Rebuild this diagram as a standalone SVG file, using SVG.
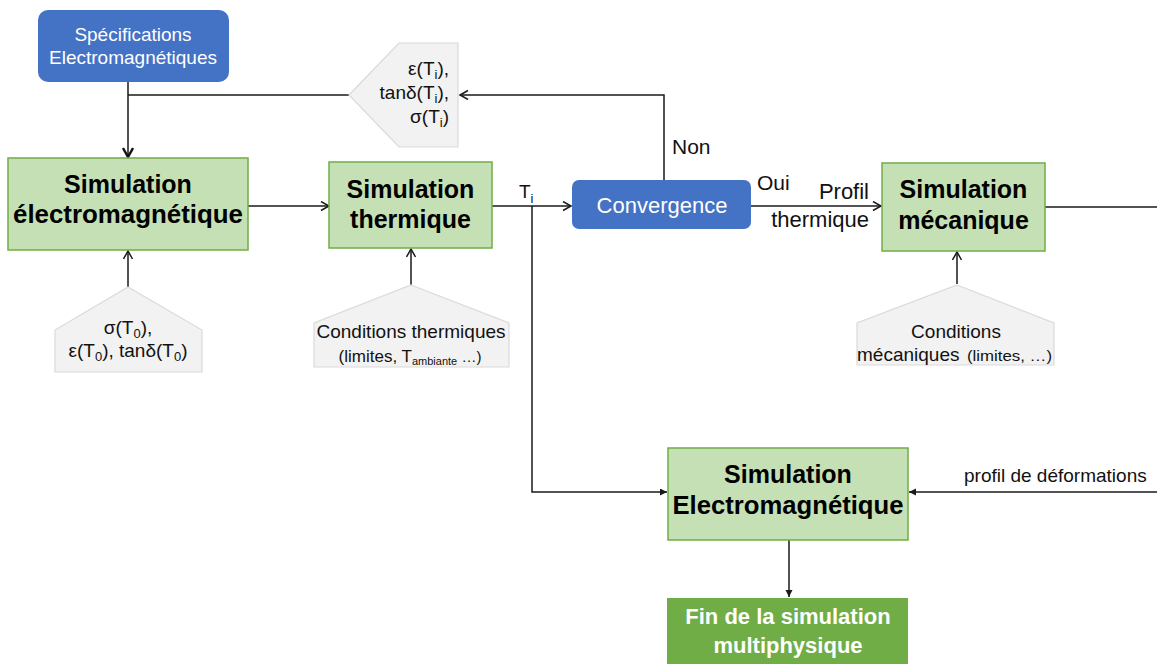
<svg xmlns="http://www.w3.org/2000/svg" width="1157" height="664" viewBox="0 0 1157 664">
<defs>
<style>
text{font-family:"Liberation Sans",Arial,sans-serif;}
.sim{fill:#C5E0B4;stroke:#70AD47;stroke-width:1.5;}
.blue{fill:#4472C4;}
.pent{fill:#F2F2F2;stroke:#DADADA;stroke-width:1.2;}
.tb{font-size:25px;font-weight:bold;fill:#000;text-anchor:middle;}
.tw{fill:#fff;text-anchor:middle;}
.tn{fill:#111;}
.c{text-anchor:middle;}
.e{text-anchor:end;}
.ln{fill:none;stroke:#1a1a1a;stroke-width:1.5;}
</style>
<marker id="open" markerUnits="userSpaceOnUse" markerWidth="12" markerHeight="12" refX="9" refY="5" orient="auto">
<path d="M1,0.5 L9,5 L1,9.5" fill="none" stroke="#1a1a1a" stroke-width="1.5"/>
</marker>
<marker id="openthick" markerUnits="userSpaceOnUse" markerWidth="14" markerHeight="14" refX="10" refY="6" orient="auto">
<path d="M1,1 L10,6 L1,11" fill="none" stroke="#111" stroke-width="2.4"/>
</marker>
<marker id="fill" markerUnits="userSpaceOnUse" markerWidth="10" markerHeight="10" refX="7" refY="3.5" orient="auto">
<path d="M0,0 L7,3.5 L0,7 Z" fill="#1a1a1a"/>
</marker>
</defs>
<rect width="1157" height="664" fill="#fff"/>

<g id="connectors">
<path class="ln" d="M128,82 V157" stroke-width="2.4" marker-end="url(#openthick)"/>
<path class="ln" d="M664,180 V95 H460" marker-end="url(#open)"/>
<path class="ln" d="M349,95 H128"/>
<path class="ln" d="M248,206 H329" marker-end="url(#open)"/>
<path class="ln" d="M492,206 H571" marker-end="url(#open)"/>
<path class="ln" d="M532,206 V492 H667" marker-end="url(#fill)"/>
<path class="ln" d="M751,206 H881" marker-end="url(#open)"/>
<path class="ln" d="M1045,207 H1157"/>
<path class="ln" d="M1157,492 H909" marker-end="url(#fill)"/>
<path class="ln" d="M789,540 V597" marker-end="url(#fill)"/>
<path class="ln" d="M128,287 V251" marker-end="url(#open)"/>
<path class="ln" d="M411,285 V249" marker-end="url(#open)"/>
<path class="ln" d="M957,284 V252" marker-end="url(#open)"/>
<text class="tn" x="519" y="198" style="font-size:19px">T<tspan style="font-size:13px" dy="5">i</tspan></text>
<text class="tn" x="672" y="154" style="font-size:21px">Non</text>
<text class="tn" x="757" y="190" style="font-size:21px">Oui</text>
<text class="tn e" x="869" y="199" style="font-size:22px">Profil</text>
<text class="tn e" x="869" y="227" style="font-size:22px">thermique</text>
<text class="tn" x="964" y="482" style="font-size:19px">profil de déformations</text>
</g>

<g id="spec">
<rect class="blue" x="38" y="10" width="191" height="72" rx="10"/>
<text class="tw" x="133" y="41" style="font-size:19px">Spécifications</text>
<text class="tw" x="133" y="64" style="font-size:19px">Electromagnétiques</text>
</g>

<g id="feedback-params">
<polygon class="pent" points="349,95 399,43 458,43 458,147 399,147"/>
<text class="tn e" x="449" y="75" style="font-size:19px">ε(T<tspan style="font-size:13px" dy="4">i</tspan><tspan dy="-4">),</tspan></text>
<text class="tn e" x="449" y="99" style="font-size:19px">tanδ(T<tspan style="font-size:13px" dy="4">i</tspan><tspan dy="-4">),</tspan></text>
<text class="tn e" x="449" y="123" style="font-size:19px">σ(T<tspan style="font-size:13px" dy="4">i</tspan><tspan dy="-4">)</tspan></text>
</g>

<g id="sim-em">
<rect class="sim" x="8" y="158" width="240" height="92"/>
<text class="tb" x="128" y="193">Simulation</text>
<text class="tb" x="128" y="223" textLength="230" lengthAdjust="spacingAndGlyphs">électromagnétique</text>
</g>

<g id="sim-thermique">
<rect class="sim" x="329" y="162" width="163" height="86"/>
<text class="tb" x="410.5" y="198">Simulation</text>
<text class="tb" x="410.5" y="228">thermique</text>
</g>

<g id="convergence">
<rect class="blue" x="572" y="180" width="179" height="49" rx="7"/>
<text class="tw" x="662" y="213" style="font-size:22px">Convergence</text>
</g>

<g id="sim-mecanique">
<rect class="sim" x="882" y="163" width="163" height="88"/>
<text class="tb" x="963.5" y="198">Simulation</text>
<text class="tb" x="963.5" y="229">mécanique</text>
</g>

<g id="em-params">
<polygon class="pent" points="128,287 202,330 202,372 55,372 55,330"/>
<text class="tn c" x="128" y="334" style="font-size:19px">σ(T<tspan style="font-size:13px" dy="4">0</tspan><tspan dy="-4">),</tspan></text>
<text class="tn c" x="128" y="357" style="font-size:19px">ε(T<tspan style="font-size:13px" dy="4">0</tspan><tspan dy="-4">), tanδ(T</tspan><tspan style="font-size:13px" dy="4">0</tspan><tspan dy="-4">)</tspan></text>
</g>

<g id="thermal-conditions">
<polygon class="pent" points="411,285 509,323 509,367 314,367 314,323"/>
<text class="tn c" x="411" y="338" style="font-size:19px">Conditions thermiques</text>
<text class="tn c" x="410" y="362" style="font-size:17px">(limites, T<tspan style="font-size:11px" dy="3">ambiante</tspan><tspan dy="-3" style="font-size:15px"> …)</tspan></text>
</g>

<g id="mech-conditions">
<polygon class="pent" points="957,285 1054,323 1054,365 857,365 857,323"/>
<text class="tn c" x="956" y="338" style="font-size:19px">Conditions</text>
<text class="tn" x="857" y="361" style="font-size:19px">mécaniques</text>
<text class="tn" x="967" y="361" style="font-size:14px" textLength="85" lengthAdjust="spacingAndGlyphs">(limites, …)</text>
</g>

<g id="sim-em2">
<rect class="sim" x="668" y="448" width="240" height="92"/>
<text class="tb" x="788" y="483">Simulation</text>
<text class="tb" x="788" y="514" textLength="231" lengthAdjust="spacingAndGlyphs">Electromagnétique</text>
</g>

<g id="fin">
<rect x="667" y="598" width="241" height="72" fill="#70AD47"/>
<text x="788" y="624" fill="#fff" text-anchor="middle" style="font-size:22px;font-weight:bold">Fin de la simulation</text>
<text x="788" y="653" fill="#fff" text-anchor="middle" style="font-size:22px;font-weight:bold">multiphysique</text>
</g>
</svg>
